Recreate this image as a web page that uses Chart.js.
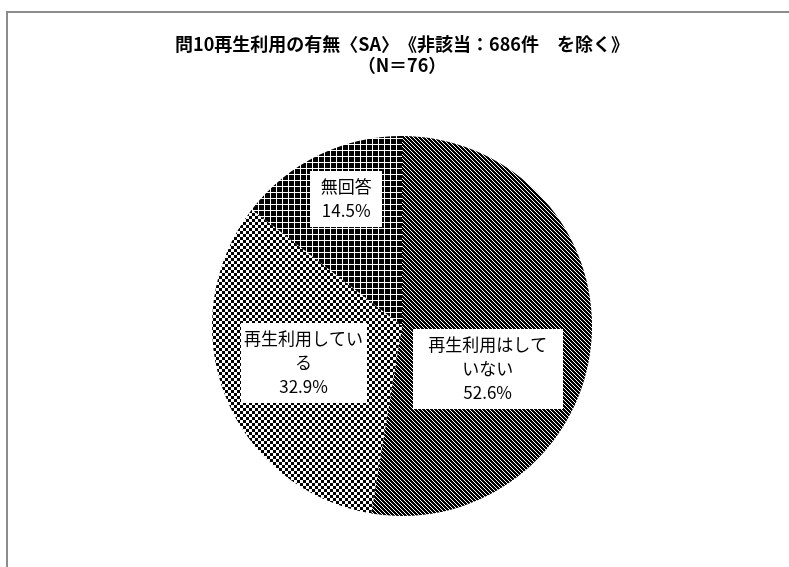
<!DOCTYPE html>
<html lang="ja">
<head>
<meta charset="utf-8">
<title>問10再生利用の有無</title>
<script src="https://cdn.jsdelivr.net/npm/chart.js@4.4.1/dist/chart.umd.min.js"></script>
<style>
  html, body { margin: 0; padding: 0; background: #fff; }
  #wrap { position: relative; width: 789px; height: 567px; overflow: hidden; }
  #frame { position: absolute; left: 6px; top: 11px; width: 820px; height: 620px; border: 2px solid #8c8c8c; box-sizing: border-box; }
  #myChart { position: absolute; left: 0; top: 0; }
</style>
</head>
<body>
<div id="wrap">
  <div id="frame"></div>
  <canvas id="myChart" width="789" height="567"></canvas>
</div>
<script>
const titleLines = ['問10再生利用の有無〈SA〉　《非該当：686件　を除く》', '（N＝76）'];
const categories = ['再生利用はしていない', '再生利用している', '無回答'];
const percents = [52.6, 32.9, 14.5];

// where each white label box sits, relative to the slice's own centre point
const labelBoxes = [
  {dx: -9, dy: 35, w: 150},
  {dx: -10, dy: 2, w: 126},
  {dx: -14, dy: -42, w: 72},
];

const FONT = '"Noto Sans CJK JP", "Noto Sans", sans-serif';
const LINE_H = 24;

const canvas = document.getElementById('myChart');
const ctx = canvas.getContext('2d');

// small black tiles with white marks, repeated as slice fills
function makePattern(size, paint) {
  const c = document.createElement('canvas');
  c.width = size;
  c.height = size;
  const g = c.getContext('2d');
  g.fillStyle = '#000';
  g.fillRect(0, 0, size, size);
  g.fillStyle = '#fff';
  paint(g, size);
  return ctx.createPattern(c, 'repeat');
}

const diagonal = makePattern(4, function(g, s) {
  for (let i = 0; i < s; i++) g.fillRect(i, i, 1, 1);
});
const checker = makePattern(6, function(g) {
  g.fillRect(0, 0, 3, 3);
  g.fillRect(3, 3, 3, 3);
});
const grid = makePattern(6, function(g) {
  g.fillRect(0, 0, 6, 1);
  g.fillRect(0, 0, 1, 6);
});

function wrapLabel(text, perLine) {
  const out = [];
  for (let i = 0; i < text.length; i += perLine) out.push(text.slice(i, i + perLine));
  return out;
}

const boxLabels = {
  id: 'boxLabels',
  afterDatasetsDraw: function(chart) {
    const c = chart.ctx;
    const meta = chart.getDatasetMeta(0);
    c.save();
    c.font = '17px ' + FONT;
    c.textAlign = 'center';
    c.textBaseline = 'middle';
    meta.data.forEach(function(arc, i) {
      const pos = arc.tooltipPosition(true);
      const box = labelBoxes[i];
      const lines = wrapLabel(categories[i], 7).concat(percents[i].toFixed(1) + '%');
      const cx = pos.x + box.dx;
      const cy = pos.y + box.dy;
      const h = lines.length * LINE_H + 8;
      c.fillStyle = '#fff';
      c.fillRect(Math.round(cx - box.w / 2), Math.round(cy - h / 2), box.w, h);
      c.fillStyle = '#000';
      lines.forEach(function(t, k) {
        c.fillText(t, cx, cy - (lines.length - 1) * LINE_H / 2 + k * LINE_H);
      });
    });
    c.restore();
  }
};

new Chart(ctx, {
  type: 'pie',
  data: {
    labels: categories,
    datasets: [{
      data: percents,
      backgroundColor: [diagonal, checker, grid],
      borderWidth: 0,
      hoverBorderWidth: 0,
      offset: 0,
      hoverOffset: 0,
    }]
  },
  options: {
    responsive: false,
    animation: false,
    devicePixelRatio: 1,
    layout: {
      padding: {left: 15, right: 0, top: 0, bottom: 51}
    },
    plugins: {
      legend: {display: false},
      tooltip: {enabled: false},
      title: {
        display: true,
        text: titleLines,
        color: '#000',
        font: {family: FONT, size: 18, weight: 'bold', lineHeight: 21 / 18},
        padding: {top: 33.5, bottom: 60.5}
      }
    }
  },
  plugins: [boxLabels]
});
</script>
</body>
</html>
